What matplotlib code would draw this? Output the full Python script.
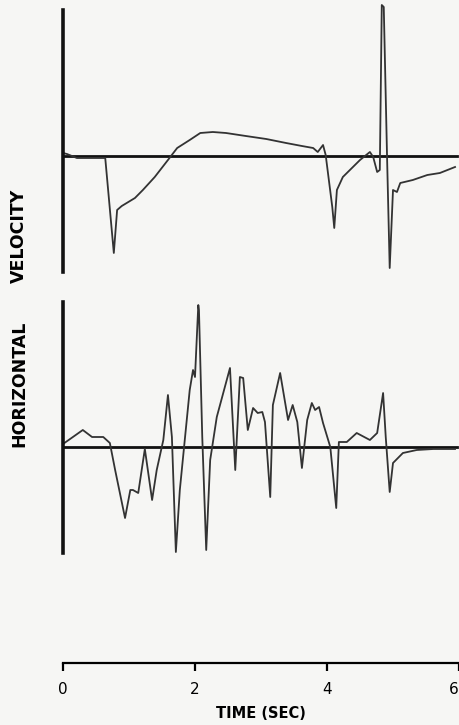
import numpy as np
import matplotlib
matplotlib.use("Agg")
import matplotlib.pyplot as plt
import matplotlib.transforms as mtransforms

# traces (time in sec, arbitrary velocity units)
vel_t = [0.00, 0.06, 0.21, 0.64, 0.77, 0.82, 0.89, 1.09, 1.21, 1.39, 1.59,
         1.73, 1.92, 2.08, 2.27, 2.47, 2.77, 3.08, 3.38, 3.62, 3.79, 3.86,
         3.94, 3.98, 4.08, 4.11, 4.15, 4.24, 4.50, 4.65, 4.70, 4.76, 4.80,
         4.83, 4.86, 4.91, 4.95, 5.00, 5.06, 5.11, 5.30, 5.52, 5.71, 5.94]
vel_v = [0.3, 0.2, -0.2, -0.2, -9.7, -5.4, -5.0, -4.2, -3.4, -2.1, -0.4,
         0.8, 1.6, 2.3, 2.4, 2.3, 2.0, 1.7, 1.3, 1.0, 0.8, 0.4,
         1.1, 0.1, -5.1, -7.2, -3.4, -2.1, -0.4, 0.4, -0.1, -1.6, -1.4,
         15.1, 14.9, -0.1, -11.2, -3.4, -3.6, -2.7, -2.4, -1.9, -1.7, -1.1]

hor_t = [0.00, 0.30, 0.44, 0.61, 0.71, 0.79, 0.94, 1.02, 1.06, 1.14, 1.24,
         1.35, 1.42, 1.52, 1.59, 1.65, 1.71, 1.77, 1.92, 1.97, 2.00, 2.05,
         2.06, 2.11, 2.17, 2.23, 2.33, 2.53, 2.61, 2.68, 2.73, 2.80, 2.88,
         2.95, 3.02, 3.06, 3.14, 3.18, 3.29, 3.41, 3.48, 3.55, 3.62, 3.70,
         3.77, 3.82, 3.88, 3.94, 4.05, 4.14, 4.18, 4.30, 4.45, 4.65, 4.76,
         4.85, 4.89, 4.95, 5.00, 5.15, 5.36, 5.61, 5.94]
hor_v = [0.3, 1.7, 1.0, 1.0, 0.4, -2.3, -7.1, -4.3, -4.3, -4.6, -0.2,
         -5.3, -2.3, 0.7, 5.2, 1.0, -10.5, -4.3, 5.7, 7.7, 7.0, 14.2,
         13.7, 1.0, -10.3, -1.3, 3.0, 7.9, -2.3, 7.0, 6.9, 1.7, 3.9,
         3.4, 3.5, 2.5, -5.0, 4.2, 7.4, 2.7, 4.2, 2.5, -2.1, 2.7,
         4.4, 3.7, 4.0, 2.4, 0.0, -6.1, 0.5, 0.5, 1.4, 0.7, 1.4,
         5.4, 1.0, -4.5, -1.6, -0.6, -0.3, -0.2, -0.2]

xticks = [0, 2, 4, 6]

W, H = 460, 725
bg = "#f6f6f4"
fig = plt.figure(figsize=(W / 100, H / 100), dpi=100, facecolor=bg)

x0, x1 = 63, 459


def px_axes(top, bottom):
    return fig.add_axes([x0 / W, 1 - bottom / H, (x1 - x0) / W, (bottom - top) / H])


def panel(ax, t, v, ylim):
    ax.set_facecolor("none")
    ax.set_xlim(0, 6)
    ax.set_ylim(*ylim)
    for s in ["top", "right", "bottom"]:
        ax.spines[s].set_visible(False)
    ax.spines["left"].set_linewidth(2.6)
    ax.spines["left"].set_color("#111111")
    ax.set_xticks([])
    ax.set_yticks([])
    ax.axhline(0, xmin=0, xmax=0.995, color="#111111", lw=2.0)
    ax.plot(t, v, color="#333333", lw=1.3, clip_on=False)


ax_top = px_axes(10, 272)
panel(ax_top, vel_t, vel_v, (-11.6, 14.6))

ax_bot = px_axes(302, 553)
panel(ax_bot, hor_t, hor_v, (-10.6, 14.5))

# time axis
ax_t = px_axes(600, 663)
ax_t.set_facecolor("none")
ax_t.set_xlim(0, 6)
for s in ["top", "right", "left"]:
    ax_t.spines[s].set_visible(False)
ax_t.spines["bottom"].set_linewidth(1.6)
ax_t.set_yticks([])
ax_t.set_xticks(xticks)
ax_t.set_xticklabels([str(x) for x in xticks])
ax_t.tick_params(axis="x", direction="out", length=6, width=1.6, pad=8,
                 labelsize=11)
ax_t.set_xlabel("TIME (SEC)", fontsize=10.5, fontweight="bold", labelpad=6)
# last label sits at the right edge; nudge it in so it is not cut
last = ax_t.get_xticklabels()[-1]
last.set_transform(last.get_transform() +
                   mtransforms.ScaledTranslation(-5 / 100, 0, fig.dpi_scale_trans))

fig.text(19 / W, 1 - 236 / H, "VELOCITY", rotation=90, ha="center",
         va="center", fontsize=12.5, fontweight="bold")
fig.text(19 / W, 1 - 384 / H, "HORIZONTAL", rotation=90, ha="center",
         va="center", fontsize=12.5, fontweight="bold")

fig.savefig("out.png", dpi=100, facecolor=bg)
